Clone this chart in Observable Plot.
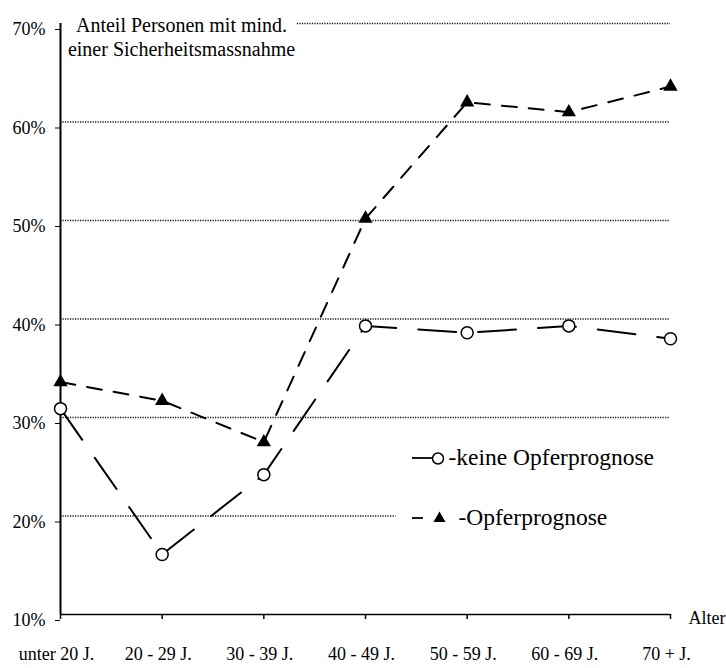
<!DOCTYPE html>
<html><head><meta charset="utf-8">
<script src="https://cdn.jsdelivr.net/npm/d3@7"></script>
<script src="https://cdn.jsdelivr.net/npm/@observablehq/plot@0.6"></script>
<style>body{margin:0;background:#fff} #chart{width:726px;height:668px}</style>
</head><body><div id="chart"></div>
<script>
const categories = ["unter 20 J.", "20 - 29 J.", "30 - 39 J.", "40 - 49 J.", "50 - 59 J.", "60 - 69 J.", "70 + J."];
const keineOpferprognose = [30.9, 16.1, 24.2, 39.3, 38.6, 39.3, 38.0];
const opferprognose = [33.6, 31.7, 27.5, 50.2, 62.0, 61.0, 63.6];
const yTicks = [10, 20, 30, 40, 50, 60, 70];
const titleLines = ["Anteil Personen mit mind.", "einer Sicherheitsmassnahme"];
const legendLabels = ["-keine Opferprognose", "-Opferprognose"];
const axisLabel = "Alter";

const idx = categories.map((_, i) => i);
const keineData = categories.map((c, i) => ({i, v: keineOpferprognose[i]}));
const opferData = categories.map((c, i) => ({i, v: opferprognose[i]}));
const grid = {stroke: "#111", strokeWidth: 1.3, strokeDasharray: "1.2,1.3"};

const svg = Plot.plot({
  width: 726, height: 668,
  marginLeft: 60, marginRight: 56, marginTop: 23, marginBottom: 54,
  style: {fontFamily: "Liberation Serif", fontSize: "18px", background: "white", color: "black"},
  x: {type: "linear", domain: [0, 6]},
  y: {type: "linear", domain: [10, 70]},
  marks: [
    Plot.ruleY([20], {...grid, x1: 0, x2: 3.3}),
    Plot.ruleY([30, 40, 50, 60], {...grid, x1: 0, x2: 6}),
    Plot.ruleY([70], {...grid, x1: 2.33, x2: 6}),
    Plot.axisX({ticks: idx, tickSize: 5, text: null, label: null, strokeWidth: 1.5}),
    Plot.axisX({ticks: idx, tickFormat: i => categories[i], tickSize: 0, tickPadding: 33, dx: -4, label: null, fontSize: 18}),
    Plot.axisY({ticks: yTicks, tickFormat: d => d + "%", tickSize: 5, tickPadding: 10, dy: 6, label: null, fontSize: 18}),
    Plot.ruleX([0], {stroke: "black", strokeWidth: 2}),
    Plot.ruleY([10], {stroke: "black", strokeWidth: 1.5}),
    Plot.line(keineData, {x: "i", y: "v", stroke: "black", strokeWidth: 2, strokeDasharray: "38,22"}),
    Plot.line(opferData, {x: "i", y: "v", stroke: "black", strokeWidth: 2, strokeDasharray: "15,12"}),
    Plot.dot(keineData, {x: "i", y: "v", r: 6, fill: "white", stroke: "black", strokeWidth: 1.5}),
    Plot.dot(opferData, {x: "i", y: "v", r: 5.3, symbol: "triangle", fill: "black"}),
    Plot.text([titleLines.join("\n")], {frameAnchor: "top-left", dx: 121, dy: -9, textAnchor: "middle", lineAnchor: "top", fontSize: 20, lineHeight: 1.2, fill: "black"}),
    Plot.dot([0], {frameAnchor: "top-left", dx: 377.5, dy: 435, r: 5.5, fill: "white", stroke: "black", strokeWidth: 1.5}),
    Plot.dot([0], {frameAnchor: "top-left", dx: 379, dy: 495, r: 4.5, symbol: "triangle", fill: "black"}),
    Plot.text([legendLabels[0]], {frameAnchor: "top-left", dx: 388, dy: 434, textAnchor: "start", lineAnchor: "middle", fontSize: 23.5, fill: "black"}),
    Plot.text([legendLabels[1]], {frameAnchor: "top-left", dx: 398, dy: 494, textAnchor: "start", lineAnchor: "middle", fontSize: 23.5, fill: "black"}),
    Plot.text([axisLabel], {frameAnchor: "bottom-right", dx: 18, dy: 4, textAnchor: "start", lineAnchor: "middle", fontSize: 18, fill: "black"})
  ]
});

const s = d3.select(svg);
s.append("line").attr("x1", 412).attr("x2", 432).attr("y1", 458).attr("y2", 458).attr("stroke", "black").attr("stroke-width", 1.8);
s.append("line").attr("x1", 412).attr("x2", 423).attr("y1", 518).attr("y2", 518).attr("stroke", "black").attr("stroke-width", 1.8);
document.getElementById("chart").appendChild(svg);
</script>
</body></html>
